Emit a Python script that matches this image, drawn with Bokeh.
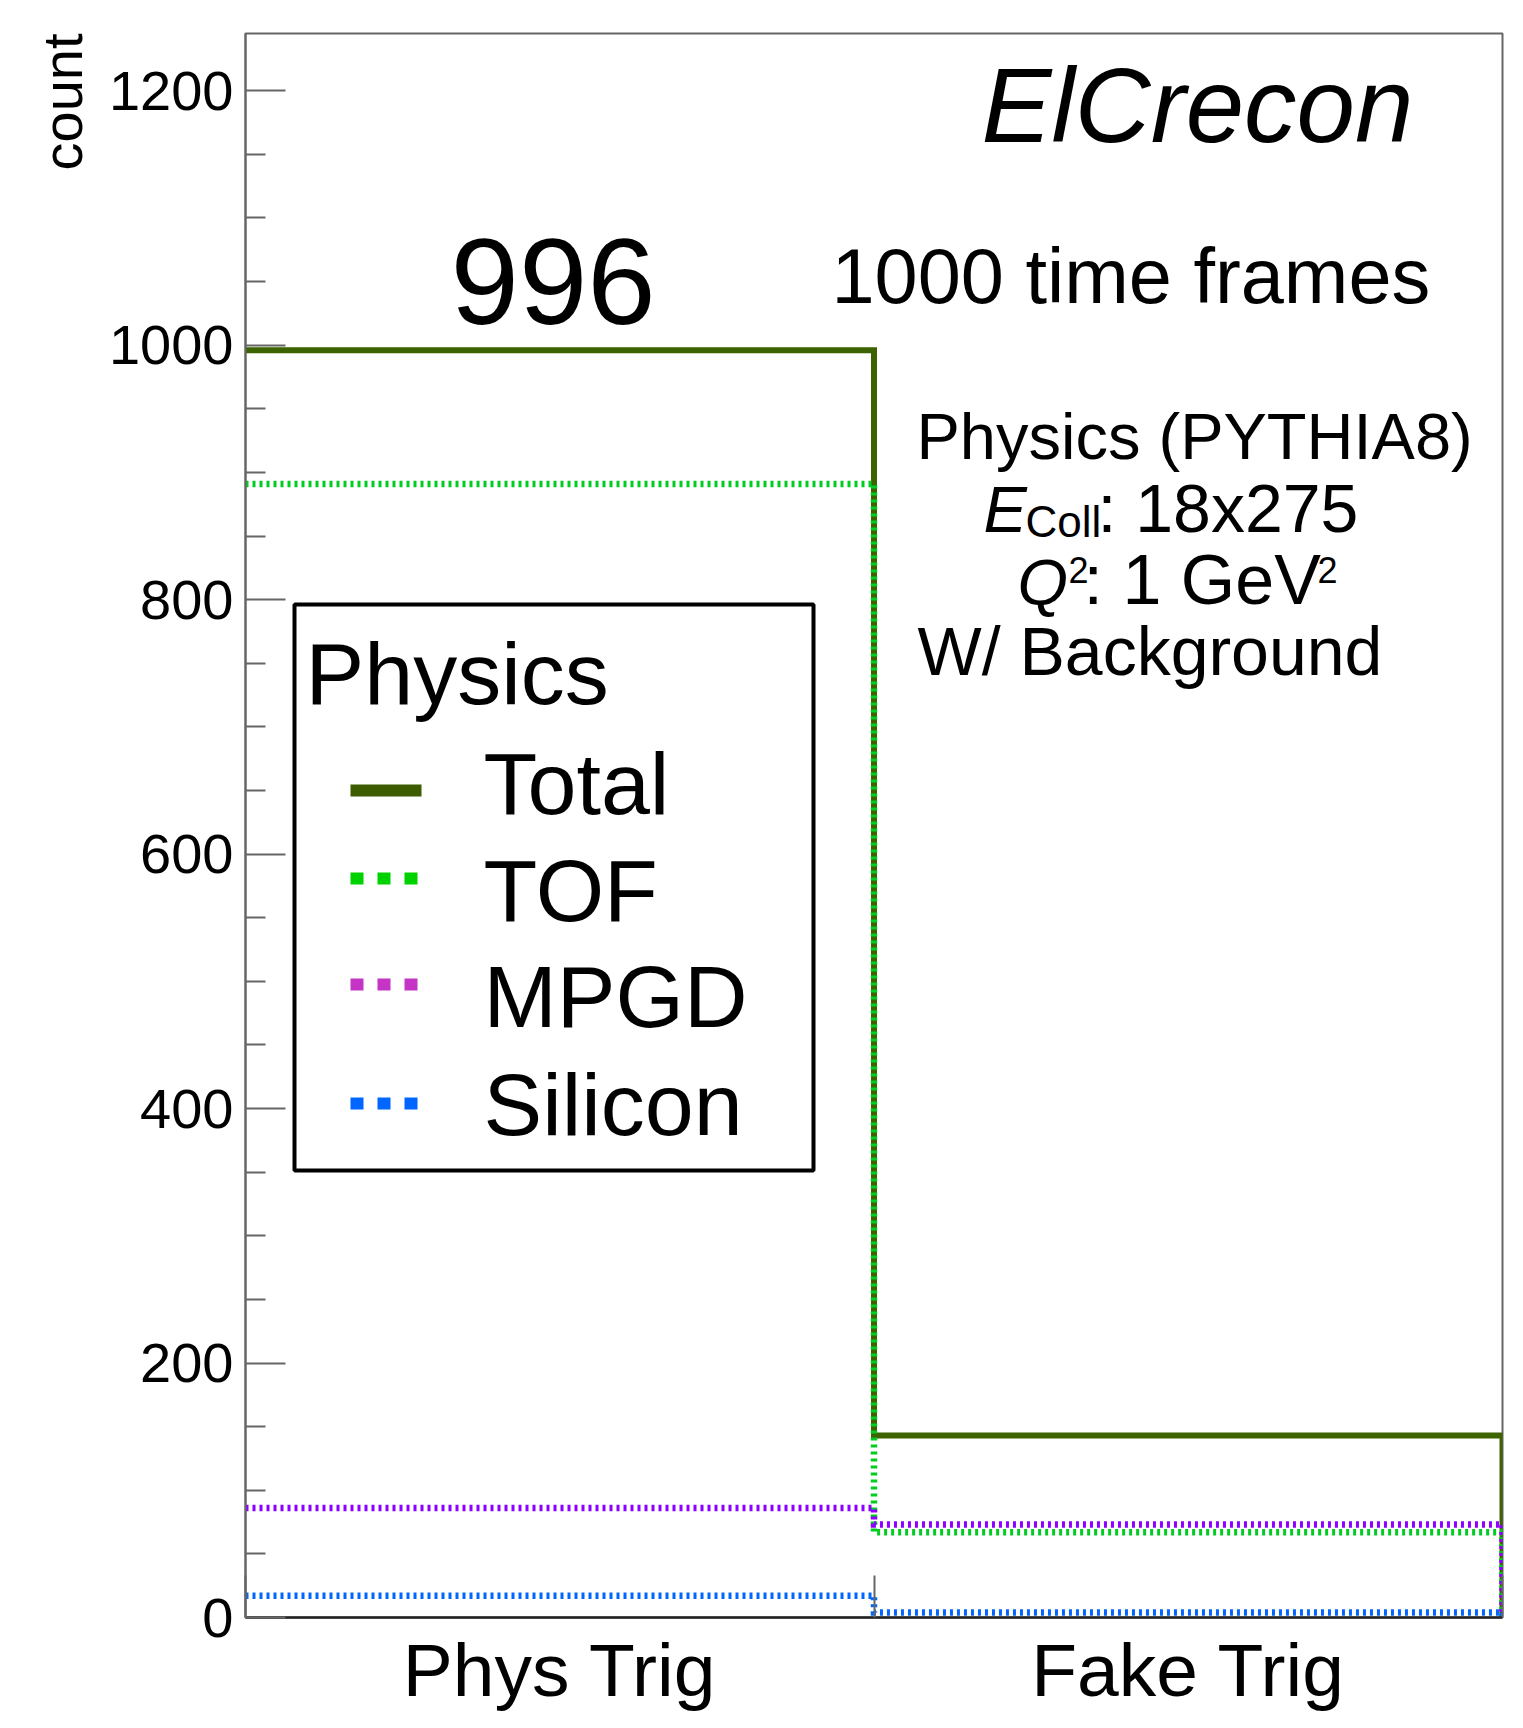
import numpy as np
from bokeh.plotting import figure
from bokeh.models import Range1d, FixedTicker, Label, BoxAnnotation, LinearAxis, Title
from bokeh.embed import file_html
from bokeh.resources import INLINE

# ---------------- data ----------------
categories = ["Phys Trig", "Fake Trig"]
total = [996, 143]
tof = [891, 67]
mpgd = [86, 73]
silicon = [17, 4]
series_names = ["Total", "TOF", "MPGD", "Silicon"]
y_ticks = [0, 200, 400, 600, 800, 1000, 1200]
y_minor_ticks = [50, 100, 150, 250, 300, 350, 450, 500, 550, 650, 700, 750,
                 850, 900, 950, 1050, 1100, 1150]
y_max = 1245
annotation_count = "996"

# ---------------- styles ----------------
FONT = "Liberation Sans"
line_colors = ["#3d6200", "#00cc22", "#8c00ff", "#0066ff"]
legend_colors = ["#3d5c00", "#00d200", "#c535c5", "#0066ff"]
dashes = ["solid", "3 4", "3 4", "3 4"]
widths = [6, 6.5, 6.5, 6.5]

W, H = 1523, 1728
FR_L, FR_R, FR_T, FR_B = 245, 1502, 33, 1617
nb = len(categories)


def X(px):
    return (px - FR_L) / (FR_R - FR_L) * nb


def Y(py):
    return (FR_B - py) / (FR_B - FR_T) * y_max


p = figure(width=W, height=H, output_backend="svg", toolbar_location=None,
           x_range=Range1d(0, nb), y_range=Range1d(0, y_max),
           x_axis_type=None, y_axis_type=None,
           min_border_left=FR_L, min_border_right=W - FR_R,
           min_border_top=FR_T, min_border_bottom=H - FR_B)
p.outline_line_color = "#666666"
p.outline_line_width = 2
p.background_fill_color = "white"
p.border_fill_color = "white"
p.grid.visible = False

# y axis
yax = LinearAxis(ticker=FixedTicker(ticks=y_ticks, minor_ticks=y_minor_ticks),
                 axis_line_color="#666666", axis_line_width=2,
                 major_tick_in=40, major_tick_out=0,
                 major_tick_line_color="#666666", major_tick_line_width=2,
                 minor_tick_in=20, minor_tick_out=0,
                 minor_tick_line_color="#666666", minor_tick_line_width=2,
                 major_label_text_font=FONT, major_label_text_font_size="56px",
                 major_label_text_color="black", major_label_standoff=12)
p.add_layout(yax, "left")
p.add_layout(Title(text="count", align="right", text_font=FONT,
                   text_font_size="56px", text_font_style="normal",
                   text_color="black", standoff=24), "left")

# x axis: category labels at bin centres, tick marks at bin edges
edges = list(range(nb + 1))
centers = [i + 0.5 for i in range(nb)]
xax = LinearAxis(ticker=FixedTicker(ticks=centers, minor_ticks=edges),
                 major_label_overrides={c: cat for c, cat in zip(centers, categories)},
                 axis_line_color="#222222", axis_line_width=2.5,
                 major_tick_in=0, major_tick_out=0,
                 minor_tick_in=42, minor_tick_out=0,
                 minor_tick_line_color="#666666", minor_tick_line_width=2,
                 major_label_text_font=FONT, major_label_text_font_size="75px",
                 major_label_text_color="black", major_label_standoff=10)
p.add_layout(xax, "below")


def outline(vals):
    xs, ys = [], []
    for i, v in enumerate(vals):
        xs += [edges[i], edges[i + 1]]
        ys += [v, v]
    xs.append(edges[-1])
    ys.append(0)
    return xs, ys


for vals, col, dash, lw in zip([total, tof, mpgd, silicon], line_colors, dashes, widths):
    xs, ys = outline(vals)
    p.line(xs, ys, line_color=col, line_width=lw, line_dash=dash,
           line_join="miter", line_cap="butt")

BASE_SHIFT = 0.36  # em: anchor correction so that py is the text baseline


def add_text(text, px, py, size, style="normal", align="left"):
    p.add_layout(Label(x=X(px), y=Y(py - BASE_SHIFT * size), text=text, text_font=FONT,
                       text_font_size=f"{size}px", text_font_style=style,
                       text_color="black", text_align=align,
                       text_baseline="alphabetic"))


# texts in the pad
add_text("ElCrecon", 981, 143, 105, style="italic")
add_text(annotation_count, 450, 325, 123)
add_text("1000 time frames", 831, 303, 77.5)
add_text("Physics (PYTHIA8)", 916, 459, 65)
add_text("E", 983, 532, 65, style="italic")
add_text("Coll", 1025, 537, 44)
add_text(": 18x275", 1097, 532, 68)
add_text("Q", 1017, 605, 65, style="italic")
add_text("2", 1068, 582, 36)
add_text(": 1 GeV", 1083, 605, 70)
add_text("2", 1317, 582, 36)
add_text("W/ Background", 917, 675, 68)

# legend
p.add_layout(BoxAnnotation(left=X(294), right=X(813), top=Y(604), bottom=Y(1170),
                           fill_color="white", fill_alpha=1.0,
                           line_color="black", line_alpha=1.0, line_width=4,
                           level="underlay"))
add_text("Physics", 305, 705, 88)
label_baselines = [815, 922, 1028, 1136]
symbol_ys = [790, 878, 984, 1103]
for name, col, dash, yb, ys in zip(series_names, legend_colors, dashes,
                                   label_baselines, symbol_ys):
    p.segment(x0=[X(350)], y0=[Y(ys)], x1=[X(421)], y1=[Y(ys)],
              line_color=col, line_width=12,
              line_dash=("13 14" if dash != "solid" else "solid"), line_cap="butt")
    add_text(name, 483, yb, 88)

open("out.html", "w").write(file_html(p, INLINE))
